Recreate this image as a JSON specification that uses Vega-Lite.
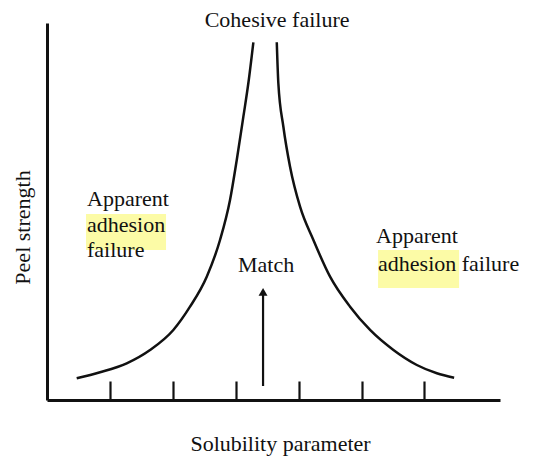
{
  "$schema": "https://vega.github.io/schema/vega-lite/v6.json",
  "width": 453,
  "height": 377,
  "autosize": {"type": "none"},
  "padding": {"left": 47, "top": 23, "right": 36, "bottom": 57},
  "background": "white",
  "config": {
    "view": {"stroke": null},
    "font": "Liberation Serif",
    "text": {"font": "Liberation Serif", "fontSize": 22},
    "mark": {"font": "Liberation Serif"}
  },
  "datasets": {
    "curves": [
      {"curve": "left", "x": 0.472, "y": 0.576},
      {"curve": "left", "x": 0.843, "y": 0.735},
      {"curve": "left", "x": 1.267, "y": 0.973},
      {"curve": "left", "x": 1.638, "y": 1.326},
      {"curve": "left", "x": 2.008, "y": 1.857},
      {"curve": "left", "x": 2.273, "y": 2.475},
      {"curve": "left", "x": 2.539, "y": 3.271},
      {"curve": "left", "x": 2.75, "y": 4.244},
      {"curve": "left", "x": 2.909, "y": 5.305},
      {"curve": "left", "x": 3.016, "y": 6.366},
      {"curve": "left", "x": 3.121, "y": 7.515},
      {"curve": "left", "x": 3.2, "y": 8.401},
      {"curve": "left", "x": 3.28, "y": 9.488},
      {"curve": "right", "x": 3.652, "y": 9.488},
      {"curve": "right", "x": 3.677, "y": 8.401},
      {"curve": "right", "x": 3.757, "y": 7.249},
      {"curve": "right", "x": 3.863, "y": 6.188},
      {"curve": "right", "x": 4.022, "y": 5.127},
      {"curve": "right", "x": 4.234, "y": 4.244},
      {"curve": "right", "x": 4.499, "y": 3.271},
      {"curve": "right", "x": 4.817, "y": 2.475},
      {"curve": "right", "x": 5.135, "y": 1.857},
      {"curve": "right", "x": 5.506, "y": 1.326},
      {"curve": "right", "x": 5.878, "y": 0.928},
      {"curve": "right", "x": 6.196, "y": 0.708},
      {"curve": "right", "x": 6.471, "y": 0.592}
    ],
    "highlights": [
      {"x": 0.62, "x2": 1.892, "y": 4.934, "y2": 3.979},
      {"x": 5.262, "x2": 6.55, "y": 3.979, "y2": 2.971}
    ],
    "centerLabels": [
      {"text": "Cohesive failure", "x": 3.657, "y": 9.894},
      {"text": "Match", "x": 3.482, "y": 3.395}
    ],
    "leftLabels": [
      {"text": "Apparent", "x": 0.636, "y": 5.146},
      {"text": "adhesion", "x": 0.636, "y": 4.456},
      {"text": "failure", "x": 0.636, "y": 3.793},
      {"text": "Apparent", "x": 5.231, "y": 4.164},
      {"text": "adhesion failure", "x": 5.262, "y": 3.422}
    ],
    "arrow": [
      {"x": 3.434, "y": 0.371, "y2": 2.8}
    ],
    "arrowhead": [
      {"x": 3.434, "y": 2.865}
    ]
  },
  "layer": [
    {
      "data": {"name": "highlights"},
      "mark": {"type": "rect", "color": "#fcfba6"},
      "encoding": {
        "x": {"field": "x", "type": "quantitative", "scale": {"domain": [0, 7.2], "nice": false, "zero": false},
          "axis": {"values": [1, 2, 3, 4, 5, 6], "labels": false, "grid": false, "tickSize": -19, "tickWidth": 2.2, "tickColor": "#111", "domainWidth": 3, "domainColor": "#111",
            "title": "Solubility parameter", "titleFont": "Liberation Serif", "titleFontSize": 22, "titleFontWeight": "normal", "titleColor": "#111",
            "titleX": 233, "titleY": 50, "titleBaseline": "alphabetic", "titleAlign": "center"}},
        "x2": {"field": "x2"},
        "y": {"field": "y", "type": "quantitative", "scale": {"domain": [0, 10], "nice": false, "zero": false},
          "axis": {"labels": false, "ticks": false, "grid": false, "domainWidth": 3, "domainColor": "#111",
            "title": "Peel strength", "titleFont": "Liberation Serif", "titleFontSize": 22, "titleFontWeight": "normal", "titleColor": "#111",
            "titleAngle": -90, "titleX": -25, "titleY": 204, "titleBaseline": "middle", "titleAlign": "center"}},
        "y2": {"field": "y2"}
      }
    },
    {
      "data": {"name": "curves"},
      "mark": {"type": "line", "interpolate": "monotone", "color": "#111", "strokeWidth": 2.5},
      "encoding": {
        "x": {"field": "x", "type": "quantitative"},
        "y": {"field": "y", "type": "quantitative"},
        "detail": {"field": "curve"}
      }
    },
    {
      "data": {"name": "arrow"},
      "mark": {"type": "rule", "color": "#111", "strokeWidth": 2.2},
      "encoding": {
        "x": {"field": "x", "type": "quantitative"},
        "y": {"field": "y", "type": "quantitative"},
        "y2": {"field": "y2"}
      }
    },
    {
      "data": {"name": "arrowhead"},
      "mark": {"type": "point", "shape": "triangle-up", "filled": true, "color": "#111", "size": 80, "opacity": 1},
      "encoding": {
        "x": {"field": "x", "type": "quantitative"},
        "y": {"field": "y", "type": "quantitative"}
      }
    },
    {
      "data": {"name": "centerLabels"},
      "mark": {"type": "text", "font": "Liberation Serif", "fontSize": 22, "fontWeight": "normal", "color": "#111", "baseline": "alphabetic", "align": "center"},
      "encoding": {
        "x": {"field": "x", "type": "quantitative"},
        "y": {"field": "y", "type": "quantitative"},
        "text": {"field": "text"}
      }
    },
    {
      "data": {"name": "leftLabels"},
      "mark": {"type": "text", "font": "Liberation Serif", "fontSize": 22, "fontWeight": "normal", "color": "#111", "baseline": "alphabetic", "align": "left"},
      "encoding": {
        "x": {"field": "x", "type": "quantitative"},
        "y": {"field": "y", "type": "quantitative"},
        "text": {"field": "text"}
      }
    }
  ]
}
